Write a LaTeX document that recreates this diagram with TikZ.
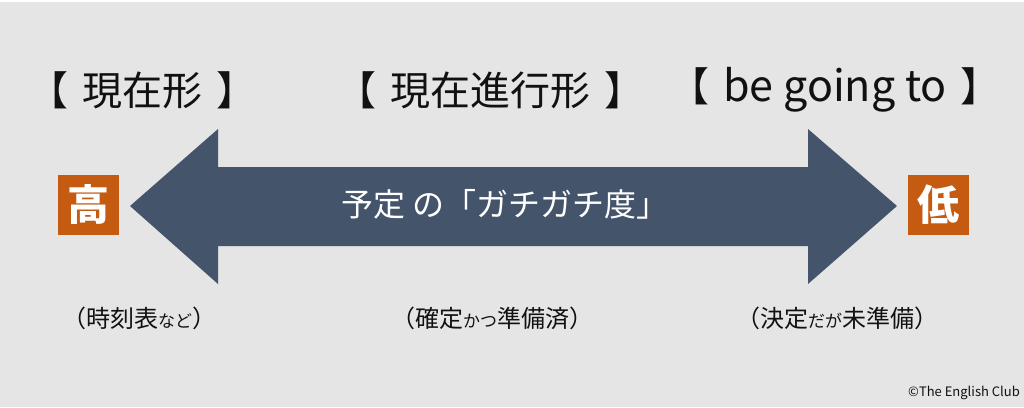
\documentclass[tikz,border=0pt]{standalone}
\usepackage{fontspec}
\setmainfont{Noto Sans CJK JP}
\definecolor{bg}{HTML}{E5E5E5}
\definecolor{arrowc}{HTML}{44546A}
\definecolor{boxc}{HTML}{C55A11}
\definecolor{txt}{HTML}{111111}
\tikzset{
  heading/.style={text=txt, font=\fontsize{40}{42}\selectfont, inner sep=0pt, anchor=center},
  note/.style={text=txt, font=\fontsize{24}{26}\selectfont, inner sep=0pt, anchor=center},
  level/.style={fill=boxc, text=white, font=\fontsize{42}{44}\selectfont\bfseries, minimum width=61pt, minimum height=60pt, inner sep=0pt}
}
\newcommand{\sk}[1]{{\fontsize{17}{19}\selectfont #1}}
\newcommand{\gap}{\hspace{14pt}}
\begin{document}
\begin{tikzpicture}[x=1pt,y=-1pt]
\useasboundingbox (0,0) rectangle (1024,407);
\fill[bg] (0,0) rectangle (1024,407);
\fill[white] (0,0) rectangle (1024,2);
% headings
\node[heading] (h1) at (142,90) {【\gap 現在形\gap 】};
\node[heading] (h2) at (490,90) {【\gap 現在進行形\gap 】};
\node[heading] (h3) at (835,90) {【\gap{\fontsize{43}{45}\selectfont be going to}\gap 】};
% double arrow
\fill[arrowc] (130,206) -- (218,129) -- (218,167) -- (808,167) -- (808,129) -- (897,206) -- (808,284) -- (808,246) -- (218,246) -- (218,284) -- cycle;
\node[text=white, font=\fontsize{32}{34}\selectfont, inner sep=0pt] (mid) at (505,204) {予定 の「ガチガチ度」};
% level boxes
\node[level] (high) at (88.5,205) {高};
\node[level] (low) at (938.5,205) {低};
% notes
\node[note] (n1) at (139,318) {（時刻表\sk{など}）};
\node[note] (n2) at (492,318) {（確定\sk{かつ}準備済）};
\node[note] (n3) at (837,318) {（決定\sk{だが}未準備）};
% credit
\node[text=txt, font=\fontsize{13}{15}\selectfont, inner sep=0pt] (credit) at (964,393) {©The English Club};
\end{tikzpicture}
\end{document}
